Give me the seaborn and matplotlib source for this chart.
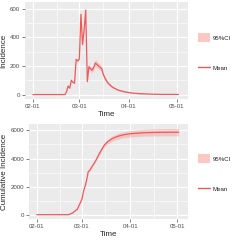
import numpy as np
import pandas as pd
import matplotlib
matplotlib.use("Agg")
import matplotlib.pyplot as plt
import matplotlib.dates as mdates
from matplotlib.patches import Patch
from matplotlib.lines import Line2D
import seaborn as sns

# daily values, 2020-02-01 .. 2020-05-02
start_date = "2020-02-01"
n_days = 92

inc_mean = [0] * 21 + [
    20, 60, 45, 100, 85, 80, 245, 235, 250,
    560, 350, 450, 590, 90,
    195, 180, 170, 190, 220, 210, 200, 190, 180, 140,
    115, 95, 80, 68, 58, 50,
    44, 38, 33, 29, 26, 23, 20, 18, 16, 14,
    12, 11, 10, 9, 8, 7, 6, 6, 5, 5,
    4, 4, 3, 3, 3, 2, 2, 2, 2,
] + [1] * 12

inc_hw = [0] * 21 + [
    2, 4, 4, 5, 5, 5, 8, 8, 8,
    10, 10, 10, 10, 8,
    15, 18, 20, 22, 25, 25, 22, 20, 18, 16,
    14, 12, 10, 9, 8, 7,
    6, 6, 5, 5, 4, 4, 4, 3, 3, 3,
] + [2] * 10 + [1] * 21

cum_mean = [0] * 21 + [
    20, 80, 125, 225, 310, 390, 635, 870, 1120,
    1680, 2030, 2480, 3070, 3160,
    3355, 3535, 3705, 3895, 4115, 4325, 4525, 4715, 4895, 5035,
    5150, 5245, 5325, 5393, 5451, 5501,
    5545, 5583, 5616, 5645, 5671, 5694, 5714, 5732, 5748, 5762,
    5774, 5785, 5795, 5804, 5812, 5819, 5825, 5831, 5836, 5841,
    5845, 5849, 5852, 5855, 5858, 5860, 5862, 5864, 5866,
    5867, 5868, 5869, 5870, 5871, 5872, 5873, 5874, 5875, 5876, 5877, 5878,
]

cum_hw = [0] * 21 + [
    2, 5, 8, 10, 12, 14, 18, 22, 26,
    30, 35, 40, 45, 50,
    60, 70, 80, 90, 100, 110, 120, 130, 140, 150,
    160, 170, 180, 185, 190, 195,
    200, 205, 210, 212, 215, 218, 220, 222, 224, 226,
    228, 230, 232, 234, 236, 238, 240, 242, 244, 246,
    247, 248, 249, 250, 251, 252, 253, 254, 255, 256, 257,
    258, 259, 260, 261, 262, 263, 264, 265, 266, 267,
]

dates = pd.date_range(start_date, periods=n_days, freq="D")
df = pd.DataFrame({
    "Time": dates,
    "inc": inc_mean, "inc_hw": inc_hw,
    "cum": cum_mean, "cum_hw": cum_hw,
})

line_col = "#F0595B"
fill_col = "#F8766D"

sns.set_theme(style="darkgrid", rc={
    "axes.facecolor": "#EBEBEB",
    "grid.color": "white",
    "axes.edgecolor": "#EBEBEB",
})
plt.rcParams["font.family"] = ["Liberation Sans", "DejaVu Sans"]

fig = plt.figure(figsize=(2.4, 2.4), dpi=100)
ax1 = fig.add_axes([25 / 240, 1 - 99 / 240, 163 / 240, 97 / 240])
ax2 = fig.add_axes([29 / 240, 1 - 219 / 240, 159 / 240, 95 / 240])


def draw(ax, col, hw, ylabel, ymin, ymax, yticks):
    lo = df[col] - df[hw]
    hi = df[col] + df[hw]
    ax.fill_between(df["Time"], lo, hi, color=fill_col, alpha=0.3, lw=0)
    sns.lineplot(data=df, x="Time", y=col, ax=ax, color=line_col, lw=0.9)
    ax.set_xlim(pd.Timestamp("2020-01-27"), pd.Timestamp("2020-05-08"))
    ax.set_ylim(ymin, ymax)
    ax.set_yticks(yticks)
    ax.xaxis.set_major_locator(mdates.MonthLocator())
    ax.xaxis.set_major_formatter(mdates.DateFormatter("%m-%d"))
    ax.xaxis.set_minor_locator(mdates.DayLocator(bymonthday=16))
    ax.yaxis.set_minor_locator(plt.FixedLocator(
        [(a + b) / 2 for a, b in zip(yticks[:-1], yticks[1:])]))
    ax.grid(which="major", color="white", lw=0.8)
    ax.grid(which="minor", color="white", lw=0.4)
    ax.tick_params(axis="both", which="major", labelsize=4.4, colors="#4D4D4D",
                   length=2, width=0.5, pad=1.5, left=True, bottom=True)
    ax.tick_params(which="minor", length=0)
    ax.set_xlabel("Time", fontsize=5.8, labelpad=1.5)
    ax.set_ylabel(ylabel, fontsize=5.8, labelpad=2.0)
    for s in ax.spines.values():
        s.set_visible(False)
    handles = [Patch(facecolor=fill_col, alpha=0.4, edgecolor="none"),
               Line2D([0], [0], color=line_col, lw=1.0)]
    leg = ax.legend(handles, ["95%CI", "Mean"], loc="center left",
                    bbox_to_anchor=(1.045, 0.475), frameon=False, fontsize=4.4,
                    labelspacing=3.6, handlelength=2.0, handleheight=1.8,
                    handletextpad=0.4, borderaxespad=0)
    for t in leg.get_texts():
        t.set_color("#222222")


draw(ax1, "inc", "inc_hw", "Incidence", -31, 646, [0, 200, 400, 600])
draw(ax2, "cum", "cum_hw", "Cumulative Incidence", -307, 6460,
     [0, 2000, 4000, 6000])

fig.savefig("out.png", dpi=100)
